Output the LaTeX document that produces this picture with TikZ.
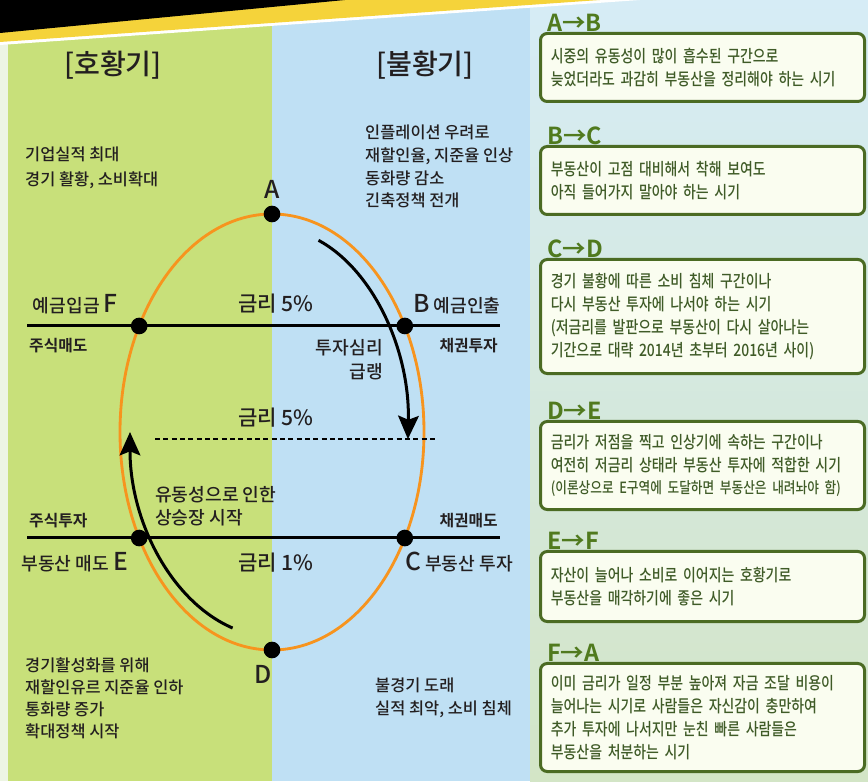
\documentclass[tikz,border=0pt]{standalone}
\usepackage{fontspec}
\setmainfont{Noto Sans CJK KR}
\newfontfamily\diag{Noto Sans CJK KR Medium}
\newfontfamily\cardfont[FakeStretch=0.82]{Noto Sans CJK KR Medium}
\newfontfamily\heavy{Noto Sans CJK KR Bold}
\usepackage{tikz}
\usetikzlibrary{arrows.meta,positioning,calc}
\usepackage{xcolor}

\definecolor{boomgreen}{HTML}{C8E07A}
\definecolor{slumpblue}{HTML}{BFE0F4}
\definecolor{ringorange}{HTML}{F7941E}
\definecolor{ink}{HTML}{231F20}
\definecolor{cardline}{HTML}{4B6B23}
\definecolor{cardfill}{HTML}{FAFDF0}
\definecolor{cardtext}{HTML}{3F5B27}
\definecolor{tagtext}{HTML}{507A1E}
\definecolor{skytop}{HTML}{D6ECF6}
\definecolor{meadow}{HTML}{D3E5C6}
\definecolor{edgewhite}{HTML}{EDF5E4}
\definecolor{bandyellow}{HTML}{F5D33A}

\newcommand\fs[2]{\fontsize{#1}{#2}\selectfont}
\newcommand\bigltr[1]{{\fs{21}{22}#1}}

\begin{document}
\begin{tikzpicture}[
    x=0.03cm, y=0.03cm,
    title/.style={font=\diag\fs{24}{28}, text=ink},
    note/.style={align=left, anchor=north west, inner sep=0pt, font=\diag\fs{14}{19.3}, text=ink},
    tag/.style={font=\heavy\fs{13.5}{15}, text=ink, inner sep=0pt},
    rate/.style={font=\diag\fs{18}{20}, text=ink, inner sep=0pt},
    ltr/.style={font=\diag\fs{21}{22}, text=ink, inner sep=1pt},
    side/.style={font=\diag\fs{15.5}{19.5}, text=ink, inner sep=0pt},
    dot/.style={circle, fill=black, inner sep=0pt, minimum size=0.5cm},
    ring/.style={draw=ringorange, line width=0.085cm},
    hline/.style={draw=black, line width=0.09cm},
    flow/.style={draw=black, line width=0.09cm, -{Stealth[length=0.7cm, width=0.62cm, inset=0.12cm]}},
    card/.style={draw=cardline, line width=0.09cm, rounded corners=0.2cm, fill=cardfill,
      anchor=north west, minimum width=9.72cm, text width=9.1cm, inner xsep=0.31cm,
      align=left, font=\cardfont\fs{14.5}{19.5}, text=cardtext},
    cardtag/.style={font=\heavy\fs{20}{20}, text=tagtext, anchor=base west, inner sep=0pt},
  ]
  \useasboundingbox (0,0) rectangle (868,781);

  % Backgrounds
  \fill[edgewhite] (0,0) rectangle (8,781);
  \fill[boomgreen] (8,0) rectangle (272,781);
  \fill[slumpblue] (272,0) rectangle (530,781);
  \shade[top color=skytop, bottom color=meadow] (530,0) rectangle (868,781);
  \fill[white] (0,781) -- (640,781) -- (0,736) -- cycle;
  \fill[bandyellow] (0,781) -- (600,781) -- (0,739) -- cycle;
  \fill[black] (0,781) -- (345,781) -- (0,748) -- cycle;

  % Period titles
  \node[title] (boomT) at (113,716) {[호황기]};
  \node[title] (slumpT) at (425,716) {[불황기]};

  % Notes at the four corners
  \node[note, font=\diag\fs{14}{21}] (boomNote) at (25,634) {기업실적 최대\\경기 활황, 소비확대};
  \node[note] (tightNote) at (365,656) {인플레이션 우려로\\재할인율, 지준율 인상\\동화량 감소\\긴축정책 전개};
  \node[note, font=\diag\fs{14}{19}] (easeNote) at (25,124) {경기활성화를 위해\\재할인유르 지준율 인하\\통화량 증가\\확대정책 시작};
  \node[note] (slumpNote) at (375,103) {불경기 도래\\실적 최악, 소비 침체};

  % Cycle
  \coordinate (O) at (272,349);
  \draw[ring] (O) ellipse [x radius=152, y radius=218];

  % Rate lines
  \coordinate (hiL) at (27,455);
  \coordinate (hiR) at (500,455);
  \coordinate (loL) at (27,243);
  \coordinate (loR) at (500,243);
  \coordinate (midL) at (155,342);
  \coordinate (midR) at (437,342);
  \draw[hline] (hiL) -- (hiR);
  \draw[hline] (loL) -- (loR);
  \draw[line width=0.05cm, dash pattern=on 0.15cm off 0.1cm] (midL) -- (midR);

  % Points on the cycle
  \node[dot] (A) at ([shift={(90:152 and 218)}]O) {};
  \node[dot] (B) at ([shift={(29.1:152 and 218)}]O) {};
  \node[dot] (C) at ([shift={(-29.1:152 and 218)}]O) {};
  \node[dot] (D) at ([shift={(-90:152 and 218)}]O) {};
  \node[dot] (E) at ([shift={(209.1:152 and 218)}]O) {};
  \node[dot] (F) at ([shift={(150.9:152 and 218)}]O) {};

  \node[ltr, above=5pt of A] (Atxt) {A};
  \node[ltr, below=5pt of D, xshift=-8] (Dtxt) {D};

  % Labels at the rate lines
  \node[side, anchor=east] (Ftxt) at (118,477) {예금입금 \bigltr{F}};
  \node[side, anchor=west] (Btxt) at (413,477) {\bigltr{B} 예금인출};
  \node[side, anchor=east] (Etxt) at (128,219) {부동산 매도 \bigltr{E}};
  \node[side, anchor=west] (Ctxt) at (405,219) {\bigltr{C} 부동산 투자};
  \node[tag, anchor=west] (stockOut) at (29,435) {주식매도};
  \node[tag, anchor=east] (bondIn) at (498,435) {채권투자};
  \node[tag, anchor=west] (stockIn) at (29,260) {주식투자};
  \node[tag, anchor=east] (bondOut) at (498,260) {채권매도};
  \node[rate] (rateA) at (276,477) {금리 5\%};
  \node[rate] (rateB) at (276,363) {금리 5\%};
  \node[rate] (rateC) at (276,218) {금리 1\%};

  % Movement arrows
  \draw[flow] ([shift={(70:136 and 204)}]O) arc[start angle=70, end angle=-2, x radius=136, y radius=204];
  \draw[flow] ([shift={(253:145 and 205)}]$(O)+(3,0)$) arc[start angle=253, end angle=180, x radius=145, y radius=205];
  \node[side, align=right, anchor=north east, font=\diag\fs{15.5}{21}] (mood) at (383,442) {투자심리\\급랭};
  \node[side, align=left, anchor=north west, font=\diag\fs{15.5}{19.5}] (rally) at (155,295) {유동성으로 인한\\상승장 시작};

  % Phase cards
  \node[card, minimum height=2.04cm] (ab) at (539,749) {시중의 유동성이 많이 흡수된 구간으로\\늦었더라도 과감히 부동산을 정리해야 하는 시기};
  \node[card, minimum height=2.04cm] (bc) at (539,636) {부동산이 고점 대비해서 착해 보여도\\아직 들어가지 말아야 하는 시기};
  \node[card, minimum height=3.42cm] (cd) at (539,523) {경기 불황에 따른 소비 침체 구간이나\\다시 부동산 투자에 나서야 하는 시기\\(저금리를 발판으로 부동산이 다시 살아나는\\기간으로 대략 2014년 초부터 2016년 사이)};
  \node[card, minimum height=2.64cm] (de) at (539,361) {금리가 저점을 찍고 인상기에 속하는 구간이나\\여전히 저금리 상태라 부동산 투자에 적합한 시기\\{\fs{13.2}{19}(이론상으로 E구역에 도달하면 부동산은 내려놔야 함)}};
  \node[card, minimum height=2.1cm] (ef) at (539,231) {자산이 늘어나 소비로 이어지는 호황기로\\부동산을 매각하기에 좋은 시기};
  \node[card, minimum height=3.24cm] (fa) at (539,119) {이미 금리가 일정 부분 높아져 자금 조달 비용이\\늘어나는 시기로 사람들은 자신감이 충만하여\\추가 투자에 나서지만 눈친 빠른 사람들은\\부동산을 처분하는 시기};

  \node[cardtag, xshift=0.24cm] at (ab.north west) {A→B};
  \node[cardtag, xshift=0.24cm] at (bc.north west) {B→C};
  \node[cardtag, xshift=0.24cm] at (cd.north west) {C→D};
  \node[cardtag, xshift=0.24cm] at (de.north west) {D→E};
  \node[cardtag, xshift=0.24cm] at (ef.north west) {E→F};
  \node[cardtag, xshift=0.24cm] at (fa.north west) {F→A};
\end{tikzpicture}
\end{document}
